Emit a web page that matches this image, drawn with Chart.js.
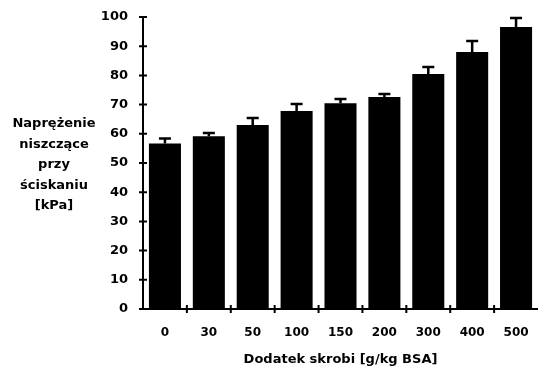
<!DOCTYPE html>
<html>
<head>
<meta charset="utf-8">
<script src="https://cdn.jsdelivr.net/npm/chart.js@4.4.1/dist/chart.umd.min.js"></script>
<style>
  html, body { margin: 0; padding: 0; background: #fff; }
</style>
</head>
<body>
<canvas id="chart" width="538" height="369"></canvas>
<script>
// Starch addition [g/kg BSA] vs. compressive failure stress [kPa]
const categories = ['0', '30', '50', '100', '150', '200', '300', '400', '500'];
const means = [56.7, 59.2, 63.0, 67.8, 70.5, 72.6, 80.5, 88.0, 96.6];
const errors = [1.7, 1.1, 2.4, 2.4, 1.4, 1.0, 2.4, 3.8, 3.1];
const yTicks = [0, 10, 20, 30, 40, 50, 60, 70, 80, 90, 100];
const yTitleLines = ['Naprężenie', 'niszczące', 'przy', 'ściskaniu', '[kPa]'];
const xTitle = 'Dodatek skrobi [g/kg BSA]';

const FONT = 'DejaVu Sans';

// Upper error bars with caps
const errorBarsPlugin = {
    id: 'errorBars',
    afterDatasetsDraw(chart) {
        const ctx = chart.ctx;
        const yScale = chart.scales.y;
        const meta = chart.getDatasetMeta(0);
        ctx.save();
        ctx.strokeStyle = '#000';
        ctx.lineWidth = 2.5;
        meta.data.forEach((bar, i) => {
            const top = yScale.getPixelForValue(means[i] + errors[i]);
            ctx.beginPath();
            ctx.moveTo(bar.x, bar.y);
            ctx.lineTo(bar.x, top);
            ctx.moveTo(bar.x - 6, top);
            ctx.lineTo(bar.x + 6, top);
            ctx.stroke();
        });
        ctx.restore();
    }
};

// Tick marks crossing the axes
const crossTicksPlugin = {
    id: 'crossTicks',
    afterDraw(chart) {
        const ctx = chart.ctx;
        const x = chart.scales.x;
        const y = chart.scales.y;
        const area = chart.chartArea;
        ctx.save();
        ctx.strokeStyle = '#000';
        ctx.lineWidth = 2;
        ctx.beginPath();
        yTicks.forEach(v => {
            const py = y.getPixelForValue(v);
            ctx.moveTo(area.left - 4, py);
            ctx.lineTo(area.left + 4, py);
        });
        for (let k = 1; k < categories.length; k++) {
            const px = (x.getPixelForValue(k - 1) + x.getPixelForValue(k)) / 2;
            ctx.moveTo(px, area.bottom - 4);
            ctx.lineTo(px, area.bottom + 4);
        }
        ctx.stroke();
        ctx.restore();
    }
};

// Horizontal, multi-line y axis title
const yTitlePlugin = {
    id: 'yTitle',
    afterDraw(chart) {
        const ctx = chart.ctx;
        ctx.save();
        ctx.fillStyle = '#000';
        ctx.font = `bold 13px "${FONT}"`;
        ctx.textAlign = 'center';
        ctx.textBaseline = 'alphabetic';
        yTitleLines.forEach((line, i) => {
            ctx.fillText(line, 54, 127 + i * 20.6);
        });
        ctx.restore();
    }
};

// invisible tick marks used only as label spacing
const spacerGrid = (len) => ({
    display: true,
    drawOnChartArea: false,
    drawTicks: true,
    tickLength: len,
    tickColor: 'rgba(0,0,0,0)'
});

const ctx = document.getElementById('chart').getContext('2d');
new Chart(ctx, {
    type: 'bar',
    data: {
        labels: categories,
        datasets: [{
            data: means,
            backgroundColor: '#000',
            borderWidth: 0,
            barPercentage: 0.73,
            categoryPercentage: 1.0
        }]
    },
    options: {
        responsive: false,
        animation: false,
        layout: {
            padding: { left: 0, top: 17, right: 0, bottom: 0 }
        },
        plugins: {
            legend: { display: false },
            tooltip: { enabled: false }
        },
        scales: {
            x: {
                afterFit: (scale) => { scale.height = 60; },
                grid: spacerGrid(17),
                border: { display: true, color: '#000', width: 2 },
                ticks: {
                    color: '#000',
                    padding: 0,
                    font: { family: FONT, size: 12, weight: 'bold' }
                },
                title: {
                    display: true,
                    text: xTitle,
                    color: '#000',
                    padding: { top: 0, bottom: 2 },
                    font: { family: FONT, size: 13, weight: 'bold' }
                }
            },
            y: {
                min: 0,
                max: 100,
                afterFit: (scale) => { scale.width = 143; },
                grid: spacerGrid(15),
                border: { display: true, color: '#000', width: 2 },
                ticks: {
                    stepSize: 10,
                    color: '#000',
                    padding: 0,
                    font: { family: FONT, size: 13, weight: 'bold' }
                }
            }
        }
    },
    plugins: [errorBarsPlugin, crossTicksPlugin, yTitlePlugin]
});
</script>
</body>
</html>
